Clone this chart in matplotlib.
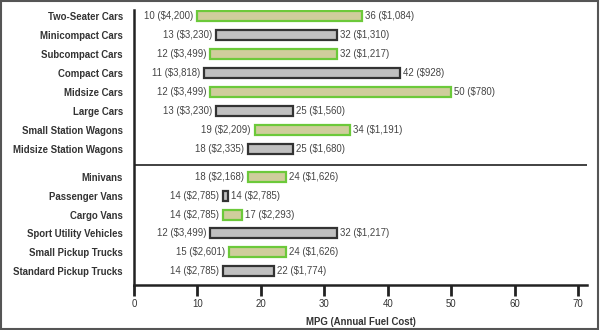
import matplotlib
matplotlib.use("Agg")
import matplotlib.pyplot as plt
from matplotlib.patches import Rectangle
from matplotlib import transforms

plt.rcParams['font.family'] = ['Liberation Sans', 'DejaVu Sans']

# Fuel economy ranges by vehicle class: lowest and highest MPG with annual fuel cost
car_classes = ["Two-Seater Cars", "Minicompact Cars", "Subcompact Cars", "Compact Cars",
               "Midsize Cars", "Large Cars", "Small Station Wagons", "Midsize Station Wagons"]
car_low_mpg = [10, 13, 12, 11, 12, 13, 19, 18]
car_low_cost = ["$4,200", "$3,230", "$3,499", "$3,818", "$3,499", "$3,230", "$2,209", "$2,335"]
car_high_mpg = [36, 32, 32, 42, 50, 25, 34, 25]
car_high_cost = ["$1,084", "$1,310", "$1,217", "$928", "$780", "$1,560", "$1,191", "$1,680"]

truck_classes = ["Minivans", "Passenger Vans", "Cargo Vans", "Sport Utility Vehicles",
                 "Small Pickup Trucks", "Standard Pickup Trucks"]
truck_low_mpg = [18, 14, 14, 12, 15, 14]
truck_low_cost = ["$2,168", "$2,785", "$2,785", "$3,499", "$2,601", "$2,785"]
truck_high_mpg = [24, 14, 17, 32, 24, 22]
truck_high_cost = ["$1,626", "$2,785", "$2,293", "$1,217", "$1,626", "$1,774"]

x_ticks = [0, 10, 20, 30, 40, 50, 60, 70]

GREEN_FILL, GREEN_EDGE = "#cfcd9c", "#6cc93a"
GREY_FILL, GREY_EDGE = "#c0c0c0", "#333333"
TEXT = "#444444"
FS = 6.9

fig = plt.figure(figsize=(6, 3.3), dpi=100)
ax = fig.add_axes([134 / 600, 45 / 330, 453 / 600, 275 / 330])

# vertical layout in pixel-like units (top = 10, bottom = 285)
car_pos = [16 + 19 * i for i in range(len(car_classes))]
truck_pos = [177 + 18.8 * j for j in range(len(truck_classes))]
sep_y = 165

labels = car_classes + truck_classes
lows = car_low_mpg + truck_low_mpg
highs = car_high_mpg + truck_high_mpg
low_costs = car_low_cost + truck_low_cost
high_costs = car_high_cost + truck_high_cost
positions = car_pos + truck_pos

bar_h = 10
min_w = 0.85  # keep zero-width ranges visible as a small box
left_off = transforms.offset_copy(ax.transData, fig=fig, x=-4, y=0, units='dots')
right_off = transforms.offset_copy(ax.transData, fig=fig, x=3, y=0, units='dots')
for k, (y, lo, hi) in enumerate(zip(positions, lows, highs)):
    green = (k % 2 == 0)
    w = max(hi - lo, min_w)
    ax.barh(y, w, left=lo, height=bar_h,
            color=GREEN_FILL if green else GREY_FILL,
            edgecolor=GREEN_EDGE if green else GREY_EDGE,
            linewidth=1.6, zorder=3)
    ax.text(lo, y, f"{lo} ({low_costs[k]})", transform=left_off,
            ha="right", va="center", fontsize=FS, color=TEXT)
    ax.text(lo + w, y, f"{hi} ({high_costs[k]})", transform=right_off,
            ha="left", va="center", fontsize=FS, color=TEXT)

ax.axhline(sep_y, color="#333333", linewidth=1.3, zorder=2)

ax.set_xlim(0, 71.4)
ax.set_ylim(285, 10)
ax.set_xticks(x_ticks)
ax.set_xticklabels([str(t) for t in x_ticks], fontsize=FS, color="#333333")
ax.set_yticks(positions)
ax.set_yticklabels(labels, fontsize=FS, fontweight="bold", color="#333333")
ax.tick_params(axis="y", length=0, pad=8)
ax.tick_params(axis="x", length=8, width=2, color="#222222", pad=2)
for s in ("top", "right"):
    ax.spines[s].set_visible(False)
for s in ("left", "bottom"):
    ax.spines[s].set_linewidth(1.8)
    ax.spines[s].set_color("#222222")

ax.set_xlabel("MPG (Annual Fuel Cost)", fontsize=FS, fontweight="bold",
              color="#333333", labelpad=6)

# frame around the whole figure
fig.patches.append(Rectangle((0.002, 0.003), 0.995, 0.994, transform=fig.transFigure,
                             fill=False, edgecolor="#555555", linewidth=1.5))

fig.savefig("out.png", dpi=100)
